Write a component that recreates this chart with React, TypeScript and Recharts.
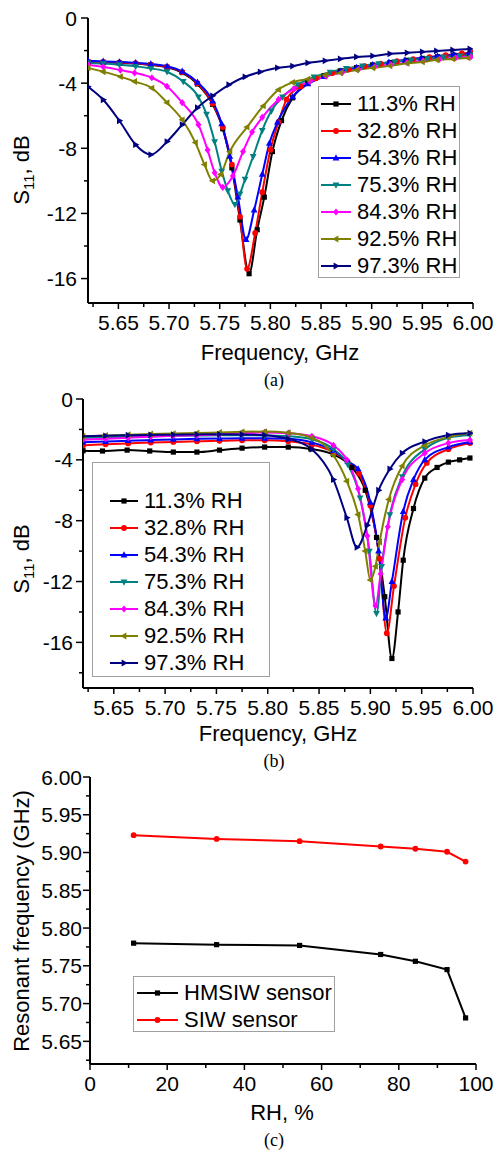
import React from 'react';
import { LineChart, Line, XAxis, YAxis, Label } from 'recharts';

// ---- (a) HMSIW sensor, S11 [GHz, dB] ----
const a113 = [[5.62,-2.7],[5.635,-2.72],[5.651,-2.75],[5.667,-2.8],[5.682,-2.88],[5.698,-3.02],[5.713,-3.35],[5.728,-4.05],[5.743,-5.3],[5.753,-6.8],[5.762,-9.2],[5.77,-12.4],[5.779,-15.7],[5.787,-13.0],[5.794,-11.0],[5.802,-8.2],[5.811,-6.3],[5.822,-4.9],[5.837,-4.0],[5.853,-3.55],[5.869,-3.25],[5.885,-3.05],[5.901,-2.88],[5.918,-2.74],[5.934,-2.6],[5.95,-2.48],[5.965,-2.38],[5.981,-2.28],[5.997,-2.2]];
const a328 = [[5.62,-2.68],[5.635,-2.7],[5.651,-2.73],[5.667,-2.78],[5.682,-2.86],[5.698,-3.0],[5.713,-3.32],[5.728,-4.0],[5.743,-5.25],[5.753,-6.7],[5.762,-9.0],[5.77,-12.2],[5.777,-15.4],[5.785,-13.2],[5.792,-10.7],[5.8,-8.1],[5.808,-6.4],[5.816,-5.0],[5.83,-4.2],[5.845,-3.7],[5.861,-3.38],[5.877,-3.15],[5.893,-2.96],[5.909,-2.8],[5.925,-2.65],[5.941,-2.52],[5.957,-2.4],[5.973,-2.28],[5.989,-2.18],[6.0,-2.12]];
const a543 = [[5.62,-2.63],[5.635,-2.66],[5.651,-2.7],[5.667,-2.75],[5.682,-2.82],[5.698,-2.96],[5.713,-3.28],[5.728,-3.95],[5.743,-5.1],[5.752,-6.5],[5.76,-8.5],[5.768,-11.0],[5.776,-13.6],[5.784,-11.8],[5.792,-9.6],[5.799,-7.7],[5.807,-6.4],[5.822,-4.84],[5.837,-4.05],[5.853,-3.6],[5.869,-3.28],[5.885,-3.05],[5.901,-2.88],[5.917,-2.72],[5.933,-2.58],[5.949,-2.46],[5.965,-2.35],[5.981,-2.25],[5.997,-2.17]];
const a753 = [[5.62,-2.76],[5.635,-2.8],[5.651,-2.87],[5.667,-2.97],[5.682,-3.1],[5.698,-3.3],[5.714,-3.9],[5.729,-4.85],[5.737,-5.9],[5.745,-7.6],[5.752,-9.4],[5.758,-10.6],[5.765,-11.45],[5.77,-10.8],[5.775,-9.9],[5.783,-8.5],[5.792,-6.9],[5.801,-5.7],[5.812,-4.85],[5.827,-4.1],[5.843,-3.62],[5.859,-3.32],[5.875,-3.1],[5.891,-2.94],[5.907,-2.8],[5.923,-2.68],[5.939,-2.57],[5.955,-2.48],[5.971,-2.4],[5.987,-2.32],[6.0,-2.27]];
const a843 = [[5.62,-2.88],[5.635,-3.0],[5.652,-3.2],[5.666,-3.37],[5.683,-3.67],[5.698,-4.2],[5.713,-5.2],[5.729,-6.55],[5.738,-8.1],[5.745,-9.5],[5.753,-10.4],[5.763,-9.7],[5.773,-8.2],[5.782,-7.0],[5.792,-6.1],[5.808,-5.0],[5.823,-4.35],[5.839,-3.9],[5.855,-3.58],[5.871,-3.35],[5.887,-3.15],[5.903,-3.0],[5.919,-2.86],[5.935,-2.74],[5.951,-2.63],[5.967,-2.53],[5.983,-2.44],[5.998,-2.38]];
const a925 = [[5.62,-3.06],[5.635,-3.3],[5.652,-3.6],[5.666,-3.9],[5.683,-4.3],[5.698,-5.2],[5.713,-6.25],[5.726,-7.65],[5.735,-9.0],[5.743,-10.0],[5.751,-9.6],[5.76,-8.2],[5.777,-6.7],[5.793,-5.4],[5.808,-4.4],[5.822,-3.95],[5.837,-3.75],[5.854,-3.5],[5.869,-3.37],[5.885,-3.2],[5.901,-3.06],[5.918,-2.94],[5.935,-2.78],[5.95,-2.7],[5.964,-2.57],[5.98,-2.51],[5.995,-2.45]];
const a973 = [[5.62,-4.22],[5.635,-5.02],[5.651,-6.31],[5.667,-7.78],[5.682,-8.39],[5.698,-7.59],[5.713,-6.55],[5.728,-5.51],[5.743,-4.78],[5.759,-4.1],[5.775,-3.61],[5.79,-3.31],[5.807,-3.06],[5.822,-2.95],[5.837,-2.76],[5.854,-2.63],[5.869,-2.51],[5.885,-2.39],[5.901,-2.33],[5.918,-2.2],[5.935,-2.14],[5.95,-2.08],[5.964,-2.02],[5.98,-1.96],[5.997,-1.9]];

// ---- (b) SIW sensor, S11 [GHz, dB] ----
const b113 = [[5.62,-3.4],[5.639,-3.42],[5.663,-3.36],[5.685,-3.42],[5.708,-3.49],[5.731,-3.49],[5.753,-3.36],[5.775,-3.23],[5.797,-3.16],[5.82,-3.16],[5.842,-3.28],[5.864,-3.65],[5.882,-4.5],[5.895,-6.0],[5.906,-9.1],[5.914,-13.0],[5.921,-17.06],[5.927,-14.0],[5.932,-10.6],[5.942,-7.2],[5.953,-5.2],[5.965,-4.5],[5.976,-4.15],[5.987,-4.0],[5.997,-3.88]];
const b328 = [[5.62,-3.05],[5.642,-2.98],[5.664,-2.92],[5.686,-2.86],[5.708,-2.82],[5.731,-2.78],[5.753,-2.75],[5.775,-2.72],[5.797,-2.72],[5.82,-2.78],[5.843,-3.0],[5.864,-3.5],[5.878,-4.15],[5.889,-4.9],[5.9,-7.0],[5.909,-10.5],[5.916,-15.4],[5.923,-12.3],[5.934,-7.8],[5.944,-5.6],[5.955,-4.2],[5.976,-3.3],[5.997,-2.9]];
const b543 = [[5.62,-2.85],[5.642,-2.8],[5.664,-2.74],[5.686,-2.7],[5.708,-2.66],[5.731,-2.62],[5.753,-2.6],[5.775,-2.58],[5.797,-2.58],[5.82,-2.62],[5.843,-2.85],[5.864,-3.4],[5.878,-4.1],[5.888,-4.6],[5.9,-6.8],[5.908,-10.0],[5.915,-14.4],[5.921,-12.0],[5.932,-7.4],[5.942,-5.3],[5.953,-4.0],[5.976,-3.16],[5.997,-2.83]];
const b753 = [[5.62,-2.55],[5.642,-2.52],[5.664,-2.48],[5.686,-2.45],[5.708,-2.42],[5.731,-2.4],[5.753,-2.38],[5.775,-2.38],[5.797,-2.4],[5.82,-2.45],[5.843,-2.65],[5.864,-3.3],[5.878,-4.3],[5.89,-6.5],[5.899,-10.0],[5.906,-14.1],[5.911,-11.0],[5.919,-7.6],[5.931,-5.1],[5.953,-3.3],[5.976,-2.55],[5.997,-2.37]];
const b843 = [[5.62,-2.68],[5.642,-2.62],[5.664,-2.55],[5.686,-2.48],[5.708,-2.42],[5.731,-2.38],[5.753,-2.32],[5.775,-2.25],[5.797,-2.2],[5.82,-2.25],[5.843,-2.45],[5.864,-3.05],[5.877,-4.0],[5.888,-5.9],[5.897,-9.0],[5.905,-13.6],[5.91,-11.5],[5.917,-8.4],[5.931,-5.3],[5.953,-3.56],[5.976,-2.9],[5.997,-2.7]];
const b925 = [[5.62,-2.45],[5.642,-2.4],[5.664,-2.35],[5.686,-2.3],[5.708,-2.27],[5.731,-2.24],[5.753,-2.2],[5.775,-2.16],[5.797,-2.14],[5.82,-2.22],[5.843,-2.55],[5.864,-3.7],[5.877,-5.4],[5.888,-7.6],[5.895,-10.0],[5.9,-11.9],[5.905,-11.0],[5.909,-9.4],[5.918,-6.6],[5.931,-4.4],[5.953,-3.05],[5.976,-2.5],[5.997,-2.24]];
const b973 = [[5.62,-2.45],[5.642,-2.42],[5.664,-2.38],[5.686,-2.36],[5.708,-2.35],[5.731,-2.33],[5.753,-2.32],[5.775,-2.33],[5.797,-2.38],[5.82,-2.62],[5.843,-3.3],[5.864,-5.3],[5.877,-7.8],[5.887,-9.75],[5.897,-8.3],[5.908,-6.0],[5.919,-4.6],[5.931,-3.56],[5.953,-2.8],[5.976,-2.37],[5.997,-2.24]];

// ---- (c) resonant frequency vs RH ----
const rhLevels = [11.3, 32.8, 54.3, 75.3, 84.3, 92.5, 97.3];
const hmsiwRes = [5.78, 5.778, 5.777, 5.765, 5.756, 5.745, 5.681];
const siwRes = [5.923, 5.918, 5.915, 5.908, 5.905, 5.901, 5.888];

const rhLabels = ['11.3% RH', '32.8% RH', '54.3% RH', '75.3% RH', '84.3% RH', '92.5% RH', '97.3% RH'];
const colors = ['#000000', '#ff0000', '#0000ff', '#008080', '#ff00ff', '#808000', '#000080'];
const shapes = ['square', 'circle', 'up', 'down', 'diamond', 'left', 'right'];

const freqMajor = [5.65, 5.7, 5.75, 5.8, 5.85, 5.9, 5.95, 6.0];
const freqMinor = [5.625, 5.675, 5.725, 5.775, 5.825, 5.875, 5.925, 5.975];
const dbMajor = [-16, -12, -8, -4, 0];
const dbMinorA = [-14, -10, -6, -2];
const dbMinorB = [-18, -14, -10, -6, -2];
const resMajor = [5.65, 5.7, 5.75, 5.8, 5.85, 5.9, 5.95, 6.0];
const resMinor = [5.625, 5.675, 5.725, 5.775, 5.825, 5.875, 5.925, 5.975];
const rhMajor = [0, 20, 40, 60, 80, 100];
const rhMinor = [10, 30, 50, 70, 90];

const FONT = '"Liberation Sans", Arial, sans-serif';
const toPts = (rows: number[][]) => rows.map(([f, db]) => ({ f, db }));
const seriesA = [a113, a328, a543, a753, a843, a925, a973].map(toPts);
const seriesB = [b113, b328, b543, b753, b843, b925, b973].map(toPts);
const hmsiwData = rhLevels.map((rh, i) => ({ rh, v: hmsiwRes[i] }));
const siwData = rhLevels.map((rh, i) => ({ rh, v: siwRes[i] }));

const isIn = (arr: number[], v: number) => arr.some((m) => Math.abs(m - v) < 1e-9);

function Glyph({ shape, cx, cy, color }: any) {
  const s = 3;
  switch (shape) {
    case 'square':
      return <rect x={cx - 2.6} y={cy - 2.6} width={5.2} height={5.2} fill={color} />;
    case 'circle':
      return <circle cx={cx} cy={cy} r={2.9} fill={color} />;
    case 'up':
      return <polygon points={`${cx},${cy - s - 0.8} ${cx - s - 0.4},${cy + s - 0.6} ${cx + s + 0.4},${cy + s - 0.6}`} fill={color} />;
    case 'down':
      return <polygon points={`${cx},${cy + s + 0.8} ${cx - s - 0.4},${cy - s + 0.6} ${cx + s + 0.4},${cy - s + 0.6}`} fill={color} />;
    case 'diamond':
      return <polygon points={`${cx},${cy - s - 0.6} ${cx + s},${cy} ${cx},${cy + s + 0.6} ${cx - s},${cy}`} fill={color} />;
    case 'left':
      return <polygon points={`${cx - s - 0.8},${cy} ${cx + s - 0.6},${cy - s - 0.4} ${cx + s - 0.6},${cy + s + 0.4}`} fill={color} />;
    default:
      return <polygon points={`${cx + s + 0.8},${cy} ${cx - s + 0.6},${cy - s - 0.4} ${cx - s + 0.6},${cy + s + 0.4}`} fill={color} />;
  }
}

const dotFor = (shape: string, color: string) => (p: any) =>
  p.cx == null ? <g key={p.index} /> : <Glyph key={p.index} shape={shape} cx={p.cx} cy={p.cy} color={color} />;

function BottomTick({ x, y, payload, majors, digits }: any) {
  const major = isIn(majors, payload.value);
  return (
    <g>
      <line x1={x} y1={y} x2={x} y2={y + (major ? 6 : 4)} stroke="#000" strokeWidth={1.5} />
      {major && (
        <text x={x} y={y + 27} textAnchor="middle" fontSize={21} fill="#000">
          {payload.value.toFixed(digits)}
        </text>
      )}
    </g>
  );
}

function LeftTick({ x, y, payload, majors, digits, gap }: any) {
  const major = isIn(majors, payload.value);
  return (
    <g>
      <line x1={x - (major ? 7 : 4)} y1={y} x2={x} y2={y} stroke="#000" strokeWidth={1.5} />
      {major && (
        <text x={x - gap} y={y + 7.5} textAnchor="end" fontSize={21} fill="#000">
          {payload.value.toFixed(digits)}
        </text>
      )}
    </g>
  );
}

const s11Title = (cy: number) => () => (
  <text transform={`translate(29,${cy}) rotate(-90)`} textAnchor="middle" fontSize={22} fill="#000">
    S<tspan fontSize={15} dy={5}>11</tspan>
    <tspan dy={-5}>, dB</tspan>
  </text>
);

const xTitle = (title: string, caption: string, cx: number) => () => (
  <g>
    <text x={cx} y={360} textAnchor="middle" fontSize={22} fill="#000">{title}</text>
    <text x={274} y={386} textAnchor="middle" fontSize={18} fill="#000" fontFamily='"Liberation Serif", "Times New Roman", serif'>
      {caption}
    </text>
  </g>
);

function LegendBox({ items, left, top, width, height, padTop, padLeft, sample }: any) {
  return (
    <div
      style={{
        position: 'absolute', left, top, width, height, boxSizing: 'border-box',
        border: '1px solid #a0a0a0', paddingTop: padTop, paddingLeft: padLeft,
        fontFamily: FONT, fontSize: 22, color: '#000', background: 'transparent',
      }}
    >
      {items.map((it: any) => (
        <div key={it.label} style={{ display: 'flex', alignItems: 'center', height: 27, whiteSpace: 'nowrap' }}>
          <svg width={sample} height={12} style={{ flex: 'none' }}>
            <line x1={0} y1={6} x2={sample} y2={6} stroke={it.color} strokeWidth={2} />
            <Glyph shape={it.shape} cx={sample / 2} cy={6} color={it.color} />
          </svg>
          <span style={{ marginLeft: 6 }}>{it.label}</span>
        </div>
      ))}
    </div>
  );
}

function S11Chart({ series, top, yLeft, yDomain, yMinor, yGap, titleCy, caption }: any) {
  return (
    <div style={{ position: 'absolute', left: 0, top }}>
      <LineChart width={495} height={400} margin={{ top: 18, right: 22, bottom: 0, left: 0 }} style={{ fontFamily: FONT }}>
        <XAxis
          dataKey="f" type="number" domain={[5.62, 6.0]} ticks={[...freqMinor, ...freqMajor].sort()}
          interval={0} height={400 - 18 - 285} tickSize={0} tickMargin={0} tickLine={false}
          axisLine={{ stroke: '#000', strokeWidth: 2 }} allowDataOverflow
          tick={<BottomTick majors={freqMajor} digits={2} />}
        >
          <Label content={xTitle('Frequency, GHz', caption, 280)} />
        </XAxis>
        <YAxis
          type="number" domain={yDomain} ticks={[...yMinor, ...dbMajor]} interval={0} width={yLeft}
          tickSize={0} tickMargin={0} tickLine={false} axisLine={{ stroke: '#000', strokeWidth: 2 }}
          allowDataOverflow tick={<LeftTick majors={dbMajor} digits={0} gap={yGap} />}
        >
          <Label content={s11Title(titleCy)} />
        </YAxis>
        {series.map((d: any, i: number) => (
          <Line
            key={rhLabels[i]} data={d} dataKey="db" name={rhLabels[i]} type="monotone"
            stroke={colors[i]} strokeWidth={2} dot={dotFor(shapes[i], colors[i])}
            activeDot={false} isAnimationActive={false}
          />
        ))}
      </LineChart>
    </div>
  );
}

export default function App() {
  const legendItems = rhLabels.map((label, i) => ({ label, color: colors[i], shape: shapes[i] }));
  return (
    <div style={{ position: 'absolute', left: 0, top: 0, width: 495, height: 1150, background: '#fff', fontFamily: FONT }}>
      <S11Chart series={seriesA} top={0} yLeft={88} yDomain={[-17.5, 0]} yMinor={dbMinorA} yGap={11} titleCy={170} caption="(a)" />
      <LegendBox items={legendItems} left={318} top={86} width={142} height={192} padTop={3} padLeft={2} sample={30} />

      <div style={{ position: 'absolute', left: 0, top: 381 }}>
        <LineChart width={495} height={400} margin={{ top: 18, right: 22, bottom: 0, left: 0 }} style={{ fontFamily: FONT }}>
          <XAxis
            dataKey="f" type="number" domain={[5.62, 6.0]} ticks={[...freqMinor, ...freqMajor].sort()}
            interval={0} height={400 - 18 - 289} tickSize={0} tickMargin={0} tickLine={false}
            axisLine={{ stroke: '#000', strokeWidth: 2 }} allowDataOverflow
            tick={<BottomTick majors={freqMajor} digits={2} />}
          >
            <Label content={xTitle('Frequency, GHz', '(b)', 278)} />
          </XAxis>
          <YAxis
            type="number" domain={[-19, 0]} ticks={[...dbMinorB, ...dbMajor]} interval={0} width={83}
            tickSize={0} tickMargin={0} tickLine={false} axisLine={{ stroke: '#000', strokeWidth: 2 }}
            allowDataOverflow tick={<LeftTick majors={dbMajor} digits={0} gap={10} />}
          >
            <Label content={s11Title(178)} />
          </YAxis>
          {seriesB.map((d, i) => (
            <Line
              key={rhLabels[i]} data={d} dataKey="db" name={rhLabels[i]} type="monotone"
              stroke={colors[i]} strokeWidth={2} dot={dotFor(shapes[i], colors[i])}
              activeDot={false} isAnimationActive={false}
            />
          ))}
        </LineChart>
      </div>
      <LegendBox items={legendItems} left={92} top={462} width={178} height={215} padTop={24} padLeft={17} sample={28} />

      <div style={{ position: 'absolute', left: 0, top: 760 }}>
        <LineChart width={495} height={390} margin={{ top: 17, right: 19, bottom: 0, left: 0 }} style={{ fontFamily: FONT }}>
          <XAxis
            dataKey="rh" type="number" domain={[0, 100]} ticks={[...rhMinor, ...rhMajor].sort((p, q) => p - q)}
            interval={0} height={86} tickSize={0} tickMargin={0} tickLine={false}
            axisLine={{ stroke: '#000', strokeWidth: 2 }} tick={<BottomTick majors={rhMajor} digits={0} />}
          >
            <Label content={xTitle('RH, %', '(c)', 282)} />
          </XAxis>
          <YAxis
            type="number" domain={[5.62, 6.0]} ticks={[...resMinor, ...resMajor].sort()} interval={0} width={90}
            tickSize={0} tickMargin={0} tickLine={false} axisLine={{ stroke: '#000', strokeWidth: 2 }}
            allowDataOverflow tick={<LeftTick majors={resMajor} digits={2} gap={8} />}
          >
            <Label
              content={() => (
                <text transform="translate(29,161) rotate(-90)" textAnchor="middle" fontSize={22} fill="#000">
                  Resonant frequency (GHz)
                </text>
              )}
            />
          </YAxis>
          <Line data={hmsiwData} dataKey="v" name="HMSIW sensor" type="linear" stroke="#000" strokeWidth={2}
            dot={dotFor('square', '#000')} activeDot={false} isAnimationActive={false} />
          <Line data={siwData} dataKey="v" name="SIW sensor" type="linear" stroke="#ff0000" strokeWidth={2}
            dot={dotFor('circle', '#ff0000')} activeDot={false} isAnimationActive={false} />
        </LineChart>
      </div>
      <LegendBox
        items={[{ label: 'HMSIW sensor', color: '#000', shape: 'square' }, { label: 'SIW sensor', color: '#ff0000', shape: 'circle' }]}
        left={133} top={976} width={202} height={56} padTop={2} padLeft={3} sample={41}
      />
    </div>
  );
}
